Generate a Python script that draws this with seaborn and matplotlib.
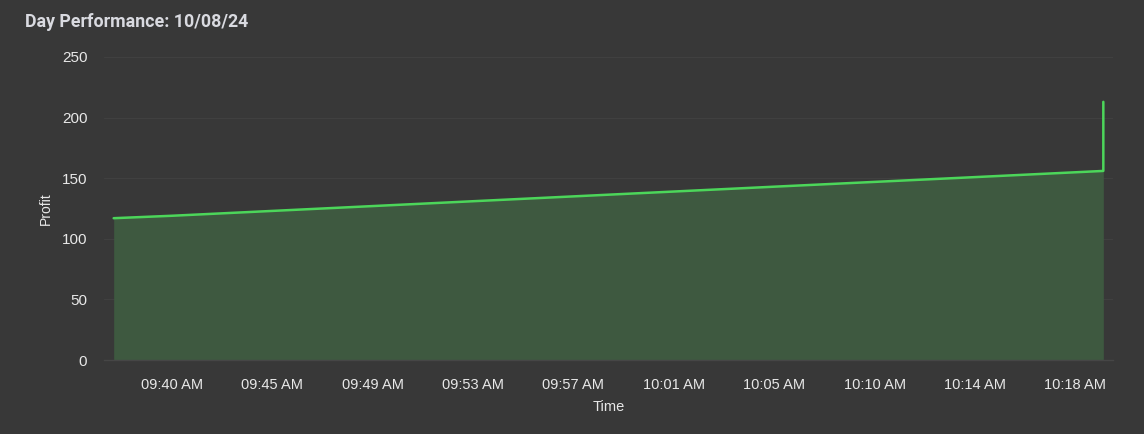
import pandas as pd
import seaborn as sns
import matplotlib.pyplot as plt

# === Data (minutes after 09:00) ===
minutes = [38.6, 41.0, 49.3, 57.6, 65.9, 74.3, 79.5, 79.5]
profit = [117, 119, 127, 135, 143, 151, 156, 213]

tick_minutes = [41.0, 45.15, 49.3, 53.45, 57.6, 61.75, 65.9, 70.05, 74.2, 78.35]
tick_labels = ["09:40 AM", "09:45 AM", "09:49 AM", "09:53 AM", "09:57 AM",
               "10:01 AM", "10:05 AM", "10:10 AM", "10:14 AM", "10:18 AM"]

df = pd.DataFrame({"Time": minutes, "Profit": profit})

bg = "#383838"
grid_c = "#404040"
line_c = "#4cd65a"
fill_c = "#3e5940"
text_c = "#e8e8e8"

sns.set_theme(style="dark", rc={
    "axes.facecolor": bg,
    "figure.facecolor": bg,
    "axes.edgecolor": bg,
})
plt.rcParams["font.family"] = ["Liberation Sans", "DejaVu Sans"]

fig = plt.figure(figsize=(11.44, 4.34), dpi=100)
ax = fig.add_axes([104 / 1144, 1 - 360 / 434, (1113 - 104) / 1144, (360 - 57) / 434])

ax.fill_between(df["Time"], 0, df["Profit"], color=fill_c, linewidth=0, zorder=1)
sns.lineplot(data=df, x="Time", y="Profit", ax=ax, color=line_c,
             linewidth=1.8, sort=False, estimator=None, errorbar=None, zorder=3)

ax.set_xlim(38.2, 79.9)
ax.set_ylim(0, 250)
ax.set_yticks([0, 50, 100, 150, 200, 250])
ax.set_xticks(tick_minutes)
ax.set_xticklabels(tick_labels)

ax.grid(axis="y", color=grid_c, linewidth=0.8, zorder=0)
ax.grid(axis="x", visible=False)
ax.set_axisbelow(True)

for side in ["top", "right", "left"]:
    ax.spines[side].set_visible(False)
ax.spines["bottom"].set_color("#464646")
ax.spines["bottom"].set_linewidth(1.0)

ax.tick_params(axis="y", length=0, pad=12, labelsize=11, labelcolor=text_c)
ax.tick_params(axis="x", length=5, width=0.8, color="#464646", pad=8,
               labelsize=10.5, labelcolor=text_c)

ax.set_xlabel("Time", color=text_c, fontsize=10.5, labelpad=6)
ax.set_ylabel("Profit", color=text_c, fontsize=10)
ax.yaxis.set_label_coords(-51 / 1009, 0.5)

fig.text(25 / 1144, 1 - 22 / 434, "Day Performance: 10/08/24",
         color="#d9dae0", fontsize=12.8, fontweight="semibold",
         family=["Roboto", "DejaVu Sans"], va="center", ha="left")

fig.savefig("out.png", dpi=100, facecolor=bg)
